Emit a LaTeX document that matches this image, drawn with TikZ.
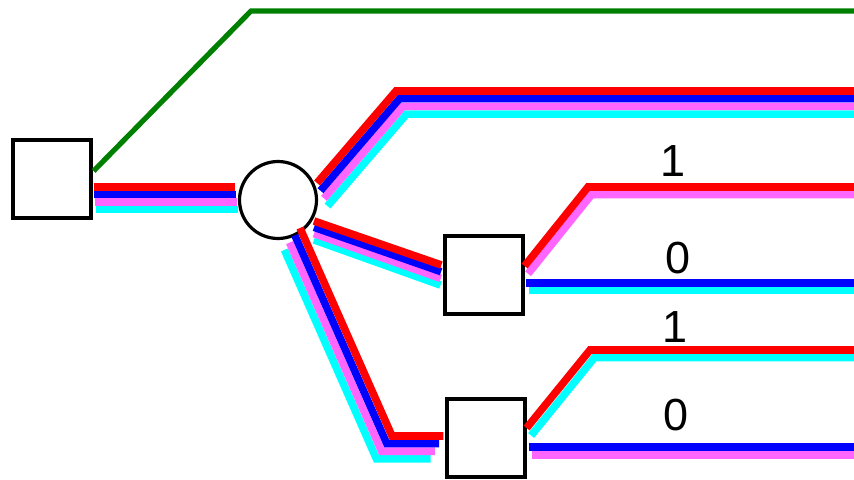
\documentclass[tikz,border=0pt]{standalone}
\usepackage{fontspec}
\setmainfont{Liberation Sans}
\usetikzlibrary{positioning,calc}
\definecolor{wgreen}{RGB}{0,128,0}
\definecolor{wpink}{RGB}{255,102,255}
\definecolor{wcyan}{RGB}{0,255,255}

\begin{document}
\begin{tikzpicture}[x=0.5pt,y=-0.5pt,
  box/.style={draw,line width=1.6pt,fill=white,minimum size=39pt,inner sep=0pt},
  hub/.style={draw,circle,line width=1.6pt,fill=white,minimum size=38.5pt,inner sep=0pt},
  wire/.style={line width=3.8pt},
  bit/.style={font=\fontsize{22.5}{26}\selectfont,inner sep=0pt}]
\clip (0,0) rectangle (854,480);
\node[box] (src) at (52,179) {};
\node[hub] (mix) at (278,200) {};
\node[box] (upper) at (484,275) {};
\node[box] (lower) at (486,438) {};
\node[bit] (u1) at (673,161) {1};
\node[bit] (u0) at (678,258) {0};
\node[bit] (l1) at (675,327) {1};
\node[bit] (l0) at (676,415) {0};
% green wire over the top
\draw[wire,line width=2.6pt,wgreen] ($(src.east)+(1,-8)$) -- (251,11) -- (854,11);
% four wires into the hub
\foreach \c/\k in {wcyan/3,wpink/2,blue/1,red/0}
  \draw[wire,\c] ($(src.east)+(1+0.7*\k,8+7.5*\k)$) -- ($(mix.west)+(-2.5+0.7*\k,-13+7.5*\k)$);
% hub outputs
\foreach \c/\k in {wcyan/3,wpink/2,blue/1,red/0}
  \draw[wire,\c] ($(mix)+(39+3.5*\k,-17+7.7*\k)$) -- (396+3.5*\k,91+7.7*\k) -- (854,91+7.7*\k);
\foreach \c/\k in {wcyan/3,wpink/2,blue/1,red/0}
  \draw[wire,\c] ($(mix)+(36,21+6.3*\k)$) -- ($(upper.west)+(-2-0.3*\k,-10+6.7*\k)$);
\foreach \c/\k in {wcyan/3,wpink/2,blue/1,red/0}
  \draw[wire,\c] ($(mix)+(22-5.2*\k,28+7.3*\k)$) -- (392-5.2*\k,436+7.6*\k) -- ($(lower.west)+(-2-4.3*\k,-2+7.6*\k)$);
% upper box outputs
\foreach \c/\k in {wpink/1,red/0}
  \draw[wire,\c] ($(upper.east)+(3.5*\k,-9+7.7*\k)$) -- (588+3.5*\k,187+7.7*\k) -- (854,187+7.7*\k);
\draw[wire,wcyan] ($(upper.east)+(4,15)$) -- (854,290);
\draw[wire,blue] ($(upper.east)+(1,8)$) -- (854,283);
% lower box outputs
\foreach \c/\k in {wcyan/1,red/0}
  \draw[wire,\c] ($(lower.east)+(4.5*\k,-10+7.5*\k)$) -- (590+4.5*\k,350+7.5*\k) -- (854,350+7.5*\k);
\draw[wire,wpink] ($(lower.east)+(5,17)$) -- (854,455);
\draw[wire,blue] ($(lower.east)+(2,9)$) -- (854,447);
\end{tikzpicture}
\end{document}
